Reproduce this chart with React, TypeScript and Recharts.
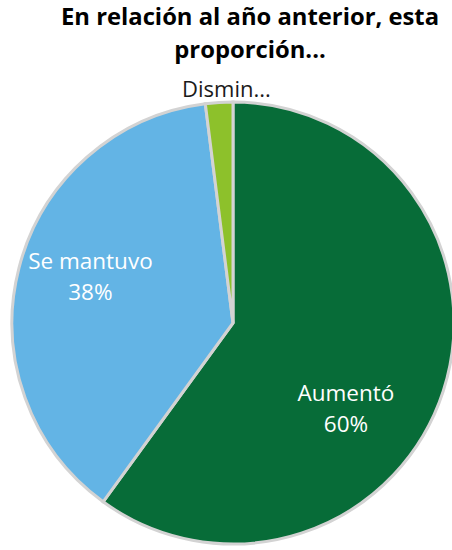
import { PieChart, Pie, Cell } from "recharts";

const categories = ["Aumentó", "Se mantuvo", "Disminuyó"];
const shares = [60, 38, 2];
const colors = ["#076c38", "#63b4e5", "#8dc12b"];

const data = categories.map((name, i) => ({ name, value: shares[i] }));

// nudges (degrees, recharts convention) and radius factors for each label
const labelShift = [-19, -4, -2];
const labelRadius = [0.64, 0.68, 1.06];

const RAD = Math.PI / 180;

const renderLabel = (props: any) => {
  const { cx, cy, midAngle, outerRadius, index, name, value } = props;
  const a = midAngle + labelShift[index];
  const r = outerRadius * labelRadius[index];
  const x = cx + Math.cos(-a * RAD) * r;
  const y = cy + Math.sin(-a * RAD) * r;
  const outside = labelRadius[index] > 1;
  if (outside) {
    const txt = name.length > 6 ? name.slice(0, 6) + "..." : name;
    return (
      <text x={x} y={y + 8} textAnchor="middle" fill="#1a1a1a" fontSize={22} fontFamily="Open Sans">
        {txt}
      </text>
    );
  }
  return (
    <text textAnchor="middle" fill="#ffffff" fontSize={22.5} fontFamily="Open Sans">
      <tspan x={x} y={y - 7}>{name}</tspan>
      <tspan x={x} y={y + 24}>{value}%</tspan>
    </text>
  );
};

function App() {
  return (
    <div style={{ position: "absolute", left: 0, top: 0, width: 452, height: 550, background: "#fff", overflow: "hidden" }}>
      <div
        style={{
          position: "absolute",
          left: 50,
          top: 0,
          width: 400,
          textAlign: "center",
          fontFamily: "Open Sans",
          fontWeight: 700,
          fontSize: 23.8,
          lineHeight: "33px",
          color: "#000",
        }}
      >
        En relación al año anterior, esta
        <br />
        proporción...
      </div>
      <PieChart width={452} height={550} margin={{ top: 0, right: 0, bottom: 0, left: 0 }}>
        <Pie
          data={data}
          dataKey="value"
          nameKey="name"
          cx={233}
          cy={323}
          outerRadius={221}
          startAngle={90}
          endAngle={-270}
          stroke="#d3d3d3"
          strokeWidth={3}
          label={renderLabel}
          labelLine={false}
          isAnimationActive={false}
        >
          {data.map((d, i) => (
            <Cell key={d.name} fill={colors[i]} />
          ))}
        </Pie>
      </PieChart>
    </div>
  );
}

export default App;
